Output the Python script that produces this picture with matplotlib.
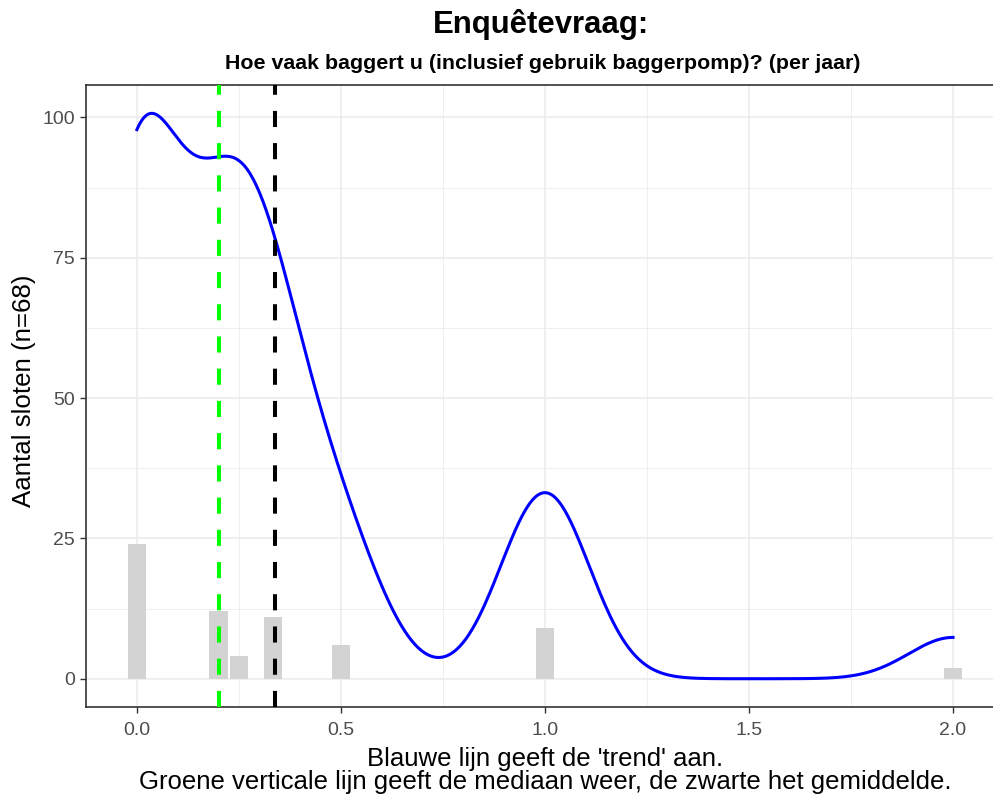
import numpy as np
import matplotlib
matplotlib.use('Agg')
import matplotlib.pyplot as plt

plt.rcParams['font.family'] = ['Liberation Sans', 'DejaVu Sans']

# answers (times per year) and number of ditches giving each answer
freq = [0, 0.2, 0.25, 1/3, 0.5, 1, 2]
counts = [24, 12, 4, 11, 6, 9, 2]
x_ticks = [0.0, 0.5, 1.0, 1.5, 2.0]
y_ticks = [0, 25, 50, 75, 100]

raw = np.repeat(freq, counts)
n = len(raw)
median = np.median(raw)
mean = raw.mean()

# gaussian density scaled to counts, bandwidth like R's bw.nrd0
q75, q25 = np.percentile(raw, [75, 25])
bw = 0.9 * min(raw.std(ddof=1), (q75 - q25) / 1.34) * n ** -0.2
xs = np.linspace(raw.min(), raw.max(), 512)
dens = np.exp(-0.5 * ((xs[:, None] - raw[None, :]) / bw) ** 2).sum(axis=1) / (bw * np.sqrt(2 * np.pi))

fig = plt.figure(figsize=(9.93, 7.98), dpi=100)
ax = fig.add_axes([0.0866, 0.114, 0.9244, 0.7794])

bar_w = 0.045
ax.bar(freq, counts, width=bar_w, color='#D3D3D3', zorder=2)
ax.plot(xs, dens, color='blue', lw=2.2, zorder=3)
ax.axvline(median, color='#00FF00', lw=2.9, ls=(0, (4, 4)), zorder=4)
ax.axvline(mean, color='black', lw=2.9, ls=(0, (4, 4)), zorder=4)

xlo, xhi = min(freq) - bar_w / 2, max(freq) + bar_w / 2
pad = 0.05 * (xhi - xlo)
ax.set_xlim(xlo - pad, xhi + pad)
ymax = max(dens.max(), max(counts))
ax.set_ylim(-0.05 * ymax, 1.05 * ymax)

ax.set_xticks(x_ticks)
ax.set_xticklabels([f'{t:.1f}' for t in x_ticks])
ax.set_yticks(y_ticks)
ax.set_xticks(np.arange(0.25, 2.1, 0.5), minor=True)
ax.set_yticks(np.arange(12.5, 100, 25), minor=True)
ax.grid(which='major', color='#EBEBEB', lw=1.1, zorder=0)
ax.grid(which='minor', color='#EBEBEB', lw=0.55, zorder=0)
ax.set_axisbelow(True)
ax.tick_params(which='major', length=4.3, width=1, color='#333333',
               labelsize=14, labelcolor='#4D4D4D')
ax.tick_params(axis='x', pad=6.5)
ax.tick_params(axis='y', pad=3.5)
ax.tick_params(which='minor', length=0)
for s in ax.spines.values():
    s.set_color('#333333')
    s.set_linewidth(1.2)

ax.set_ylabel('Aantal sloten (n=68)', fontsize=18.6)
ax.yaxis.set_label_coords(-0.054, 0.508)
ax.set_xlabel("Blauwe lijn geeft de 'trend' aan.\n"
              "Groene verticale lijn geeft de mediaan weer, de zwarte het gemiddelde.",
              fontsize=18.5, labelpad=5.5, linespacing=0.95)

cx = 0.0866 + 0.9244 / 2
fig.text(cx - 0.004, 0.969, 'Enquêtevraag:', ha='center', va='center', fontsize=22.4, fontweight='bold')
fig.text(cx - 0.002, 0.921, 'Hoe vaak baggert u (inclusief gebruik baggerpomp)? (per jaar)',
         ha='center', va='center', fontsize=15.4, fontweight='bold')

fig.savefig('out.png', dpi=100)
